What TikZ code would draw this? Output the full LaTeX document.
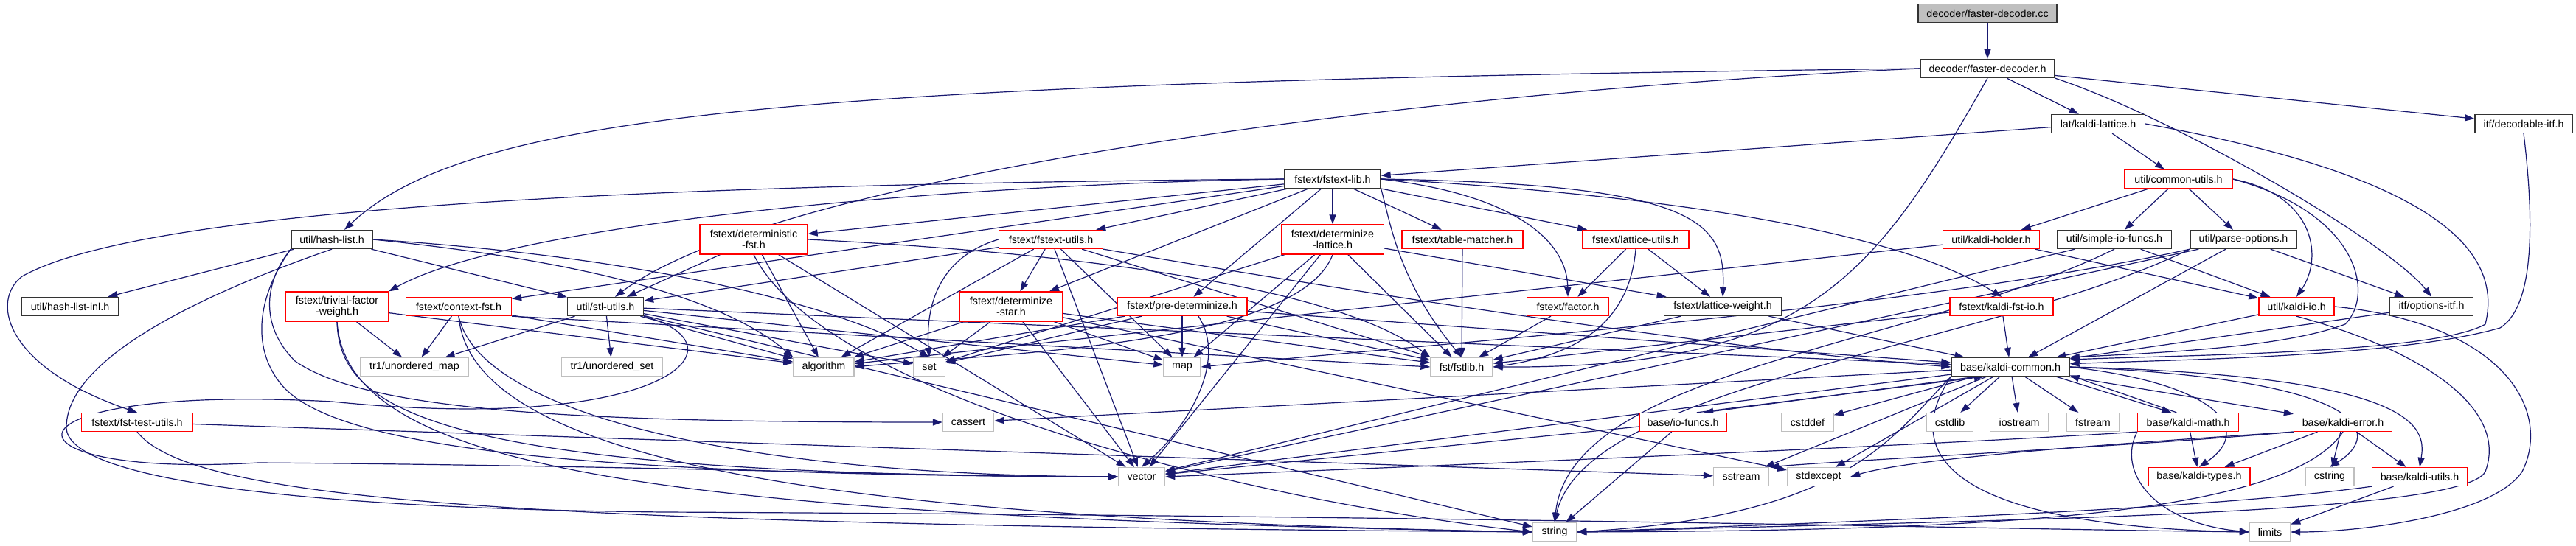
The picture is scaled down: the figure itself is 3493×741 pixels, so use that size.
\documentclass[tikz,border=0pt]{standalone}
\usepackage{fontspec}
\setmainfont{Liberation Sans}
\usetikzlibrary{arrows.meta}
\pgfdeclarelayer{edges}
\pgfsetlayers{edges,main}
\definecolor{edgeblue}{HTML}{191970}
\definecolor{sysgray}{HTML}{BFBFBF}
\definecolor{boxred}{HTML}{FF0000}

\begin{document}
\begin{tikzpicture}[x=1pt, y=-1pt,
    box/.style={rectangle, line width=1.3pt, fill=white, inner xsep=1pt, inner ysep=0pt,
      minimum height=25pt, align=center, font=\fontsize{14.3}{15}\selectfont},
    hdr/.style={box, draw=black!80, minimum width=#1},
    redhdr/.style={box, draw=boxred, minimum width=#1},
    syshdr/.style={box, draw=sysgray, minimum width=#1},
    roothdr/.style={box, draw=black!80, fill=sysgray, minimum width=#1},
    twoline/.style={minimum height=40pt},
    incl/.style={draw=edgeblue, line width=1.2pt, -{Triangle[length=13pt,width=9pt]}}]
  \useasboundingbox (0,0) rectangle (3493,741);

  % Source file and the headers it pulls in first
  \node[roothdr=188] (cc) at (2695,18) {decoder/faster-decoder.cc};
  \node[hdr=182] (fdh) at (2695,93) {decoder/faster-decoder.h};
  \node[hdr=127] (kaldilat) at (2845,168) {lat/kaldi-lattice.h};
  \node[hdr=132] (decitf) at (3422,168) {itf/decodable-itf.h};
  \node[hdr=130] (fstextlib) at (1807,243) {fstext/fstext-lib.h};
  \node[redhdr=146] (common) at (2954,243) {util/common-utils.h};

  % Fourth row
  \node[hdr=110] (hashlist) at (450,325) {util/hash-list.h};
  \node[redhdr=146, twoline] (detfst) at (1022,325) {fstext/deterministic\\-fst.h};
  \node[redhdr=141] (fstextutils) at (1425,325) {fstext/fstext-utils.h};
  \node[redhdr=139, twoline] (detlat) at (1807,325) {fstext/determinize\\-lattice.h};
  \node[redhdr=164] (tablematcher) at (1983,325) {fstext/table-matcher.h};
  \node[redhdr=144] (latutils) at (2218,325) {fstext/lattice-utils.h};
  \node[redhdr=131] (holder) at (2700,325) {util/kaldi-holder.h};
  \node[hdr=155] (simpleio) at (2867,325) {util/simple-io-funcs.h};
  \node[hdr=144] (parseopt) at (3042,325) {util/parse-options.h};

  % Fifth row
  \node[hdr=131] (hashlistinl) at (95,416) {util/hash-list-inl.h};
  \node[redhdr=139, twoline] (trivial) at (457,416) {fstext/trivial-factor\\-weight.h};
  \node[redhdr=143] (contextfst) at (622,416) {fstext/context-fst.h};
  \node[hdr=103] (stl) at (821,416) {util/stl-utils.h};
  \node[redhdr=139, twoline] (detstar) at (1371,416) {fstext/determinize\\-star.h};
  \node[redhdr=176] (predet) at (1603,416) {fstext/pre-determinize.h};
  \node[redhdr=111] (factor) at (2126,416) {fstext/factor.h};
  \node[hdr=159] (latweight) at (2336,416) {fstext/lattice-weight.h};
  \node[redhdr=140] (kaldifstio) at (2714,416) {fstext/kaldi-fst-io.h};
  \node[redhdr=102] (kaldiio) at (3114,416) {util/kaldi-io.h};
  \node[hdr=113] (optitf) at (3297,416) {itf/options-itf.h};

  % System headers, fstlib and kaldi-common
  \node[syshdr=146] (umap) at (562,498) {tr1/unordered\_map};
  \node[syshdr=137] (uset) at (830,498) {tr1/unordered\_set};
  \node[syshdr=82] (algorithm) at (1117,498) {algorithm};
  \node[syshdr=43] (set) at (1260,498) {set};
  \node[syshdr=50] (map) at (1603,498) {map};
  \node[syshdr=84] (fstlib) at (1982,498) {fst/fstlib.h};
  \node[hdr=160] (kcommon) at (2726,498) {base/kaldi-common.h};

  \node[redhdr=151] (fsttest) at (186,573) {fstext/fst-test-utils.h};
  \node[syshdr=69] (cassert) at (1313,573) {cassert};
  \node[redhdr=118] (iofuncs) at (2282,573) {base/io-funcs.h};
  \node[syshdr=70] (cstddef) at (2451,573) {cstddef};
  \node[syshdr=63] (cstdlib) at (2644,573) {cstdlib};
  \node[syshdr=79] (iostream) at (2738,573) {iostream};
  \node[syshdr=72] (fstream) at (2838,573) {fstream};
  \node[redhdr=137] (kmath) at (2967,573) {base/kaldi-math.h};
  \node[redhdr=133] (kerror) at (3177,573) {base/kaldi-error.h};

  \node[syshdr=63] (vector) at (1548,647) {vector};
  \node[syshdr=75] (sstream) at (2361,647) {sstream};
  \node[syshdr=85] (stdexcept) at (2466,647) {stdexcept};
  \node[redhdr=138] (ktypes) at (2982,647) {base/kaldi-types.h};
  \node[syshdr=66] (cstring) at (3159,647) {cstring};
  \node[redhdr=129] (kutils) at (3281,647) {base/kaldi-utils.h};

  \node[syshdr=59] (string) at (2108,722) {string};
  \node[syshdr=55] (limits) at (3078,722) {limits};

  \begin{pgfonlayer}{edges}
  \fill[white] (0,0) rectangle (3493,741);
  % decoder
  \draw[incl] (cc) -- (fdh);
  \draw[incl] (fdh) -- (kaldilat);
  \draw[incl] (fdh) -- (decitf);
  \draw[incl] (fdh.south east) .. controls (2950,160) and (3240,330) .. (optitf.north);
  \draw[incl] (fdh.west) .. controls (1900,125) and (1050,240) .. ([xshift=13pt]stl.north);
  \draw[incl] (fdh.west) .. controls (1100,112) and (640,150) .. ([xshift=17pt]hashlist.north);
  \draw[incl] (fdh.south) .. controls (2540,380) and (2450,500) .. (fstlib.east);
  % lattice and decodable interface
  \draw[incl] (kaldilat) -- (fstextlib);
  \draw[incl] (kaldilat) -- (common);
  \draw[incl] (kaldilat.east) .. controls (3250,230) and (3400,320) .. (3370,440) .. controls (3300,480) and (2950,482) .. (kcommon.7);
  \draw[incl] (decitf.south) .. controls (3440,330) and (3430,420) .. (3390,445) .. controls (3250,485) and (2950,488) .. (kcommon.3);
  % fstext-lib
  \draw[incl] (fstextlib) -- (detlat);
  \draw[incl] (fstextlib) -- (tablematcher);
  \draw[incl] (fstextlib) -- (latutils);
  \draw[incl] (fstextlib) -- (fstextutils);
  \draw[incl] (fstextlib) -- (detfst);
  \draw[incl] (fstextlib) -- (predet);
  \draw[incl] (fstextlib) -- (detstar);
  \draw[incl] (fstextlib) -- (contextfst);
  \draw[incl] (fstextlib.south east) .. controls (1885,300) and (1895,380) .. (fstlib.north);
  \draw[incl] (fstextlib.east) .. controls (2060,265) and (2125,330) .. (factor.north);
  \draw[incl] (fstextlib.east) .. controls (2300,250) and (2340,300) .. (latweight.north);
  \draw[incl] (fstextlib.east) .. controls (2350,270) and (2600,330) .. (kaldifstio.north);
  \draw[incl] (fstextlib.west) .. controls (1300,250) and (700,300) .. (trivial.north east);
  \draw[incl] (fstextlib.west) .. controls (900,250) and (200,280) .. (30,375) .. controls (-15,410) and (10,500) .. (fsttest.north);
  % common-utils
  \draw[incl] (common) -- (holder);
  \draw[incl] (common) -- (simpleio);
  \draw[incl] (common) -- (parseopt);
  \draw[incl] (common.east) .. controls (3140,265) and (3150,350) .. (kaldiio.north);
  \draw[incl] (common.east) .. controls (3200,290) and (3220,400) .. (3180,440) .. controls (3100,470) and (2950,478) .. (kcommon.north east);
  % hash-list
  \draw[incl] (hashlist) -- (hashlistinl);
  \draw[incl] (hashlist) -- (stl);
  \draw[incl] (hashlist.east) .. controls (850,360) and (1000,420) .. (algorithm.north west);
  \draw[incl] (hashlist.east) .. controls (900,350) and (1150,420) .. (set.north);
  \draw[incl] (hashlist.south west) .. controls (350,400) and (340,470) .. (380,520) .. controls (450,610) and (800,645) .. (vector.west);
  \draw[incl] (hashlist.south west) .. controls (360,380) and (350,440) .. (400,490) .. controls (500,560) and (800,573) .. (cassert.west);
  \draw[incl] (hashlist.south) .. controls (300,390) and (90,480) .. (90,580) .. controls (90,650) and (400,690) .. (900,695) .. controls (2000,700) and (2700,718) .. (limits.west);
  % deterministic-fst
  \draw[incl] (detfst) -- (stl);
  \draw[incl] (detfst) -- (algorithm);
  \draw[incl] (detfst) -- (vector);
  \draw[incl] (detfst.east) .. controls (1400,340) and (1800,380) .. (fstlib.north west);
  \draw[incl] (detfst.south) .. controls (1120,540) and (1700,680) .. (string.west);
  % fstext-utils
  \draw[incl] (fstextutils) -- (detstar);
  \draw[incl] (fstextutils) -- (algorithm);
  \draw[incl] (fstextutils.west) .. controls (1270,350) and (1255,420) .. (set.north);
  \draw[incl] (fstextutils) -- (map);
  \draw[incl] (fstextutils) -- (vector);
  \draw[incl] (fstextutils) -- (fstlib);
  \draw[incl] (fstextutils) -- (stl);
  \draw[incl] (fstextutils.south east) .. controls (1800,390) and (2300,470) .. (kcommon.west);
  % determinize-lattice
  \draw[incl] (detlat) -- (fstlib);
  \draw[incl] (detlat.south) .. controls (1760,470) and (1350,480) .. (algorithm.east);
  \draw[incl] (detlat) -- (set);
  \draw[incl] (detlat) -- (map);
  \draw[incl] (detlat) -- (vector);
  \draw[incl] (detlat) -- (latweight);
  % table-matcher, lattice-utils
  \draw[incl] (tablematcher) -- (fstlib);
  \draw[incl] (latutils) -- (factor);
  \draw[incl] (latutils) -- (latweight);
  \draw[incl] (latutils.south) .. controls (2210,430) and (2150,480) .. (fstlib.east);
  % util headers
  \draw[incl] (holder) -- (kaldiio);
  \draw[incl] (holder) -- (algorithm);
  \draw[incl] (simpleio) -- (kaldiio);
  \draw[incl] (simpleio.south) .. controls (2600,470) and (2130,500) .. (string.north);
  \draw[incl] (simpleio) -- (vector);
  \draw[incl] (parseopt) -- (optitf);
  \draw[incl] (parseopt) -- (kcommon);
  \draw[incl] (parseopt.south west) .. controls (2600,420) and (1900,470) .. (map.east);
  \draw[incl] (parseopt.south west) .. controls (2700,470) and (2150,520) .. (string.north);
  \draw[incl] (parseopt) -- (vector);
  \draw[incl] (kaldiio) -- (kcommon);
  \draw[incl] (kaldiio.south) .. controls (3300,480) and (3400,560) .. (3370,640) .. controls (3340,700) and (2700,705) .. (string.east);
  \draw[incl] (kaldiio.east) .. controls (3400,440) and (3460,560) .. (3420,640) .. controls (3380,700) and (3200,722) .. (limits.east);
  \draw[incl] (optitf) -- (kcommon);
  % fifth row fstext and util
  \draw[incl] (trivial) -- (umap);
  \draw[incl] (trivial) -- (algorithm);
  \draw[incl] (trivial.south) .. controls (460,560) and (600,645) .. (vector.west);
  \draw[incl] (trivial.south) .. controls (470,640) and (900,700) .. (string.west);
  \draw[incl] (contextfst) -- (umap);
  \draw[incl] (contextfst) -- (algorithm);
  \draw[incl] (contextfst.south east) -- (fstlib.west);
  \draw[incl] (contextfst.south) .. controls (650,560) and (1000,645) .. (vector.west);
  \draw[incl] (contextfst.south) .. controls (640,640) and (1200,705) .. (string.west);
  \draw[incl] (stl) -- (umap);
  \draw[incl] (stl) -- (uset);
  \draw[incl] (stl) -- (algorithm);
  \draw[incl] (stl) -- (set);
  \draw[incl] (stl) -- (map);
  \draw[incl] (stl) -- (kcommon);
  \draw[incl] (stl) -- (string);
  \draw[incl] (stl.south east) .. controls (1020,470) and (900,590) .. (450,545) .. controls (-20,520) and (-20,650) .. (350,628) .. controls (900,632) and (1300,648) .. (vector.west);
  \draw[incl] (detstar) -- (algorithm);
  \draw[incl] (detstar) -- (set);
  \draw[incl] (detstar) -- (map);
  \draw[incl] (detstar) -- (vector);
  \draw[incl] (detstar) -- (fstlib);
  \draw[incl] (detstar) -- (stdexcept);
  \draw[incl] (predet) -- (algorithm);
  \draw[incl] (predet) -- (set);
  \draw[incl] (predet) -- (map);
  \draw[incl] ([xshift=22pt]predet.south) .. controls (1665,490) and (1610,580) .. (vector.north);
  \draw[incl] (predet) -- (fstlib);
  \draw[incl] (predet) -- (kcommon);
  \draw[incl] (factor) -- (fstlib);
  \draw[incl] (latweight) -- (fstlib);
  \draw[incl] (latweight) -- (kcommon);
  \draw[incl] (kaldifstio) -- (kcommon);
  \draw[incl] (kaldifstio) -- (fstlib);
  \draw[incl] (fsttest) -- (sstream);
  \draw[incl] (fsttest.south) .. controls (260,680) and (700,712) .. (string.west);
  % kaldi-common
  \draw[incl] (kcommon) -- (cassert);
  \draw[incl] (kcommon.196) -- (iofuncs.25);
  \draw[incl] (kcommon) -- (cstddef);
  \draw[incl] (kcommon) -- (cstdlib);
  \draw[incl] (kcommon) -- (iostream);
  \draw[incl] (kcommon) -- (fstream);
  \draw[incl] (kcommon.-12) -- (kmath.150);
  \draw[incl] (kcommon) -- (kerror);
  \draw[incl] (kcommon) -- (vector);
  \draw[incl] (kcommon) -- (sstream);
  \draw[incl] (kcommon) -- (stdexcept);
  \draw[incl] (kcommon.east) .. controls (3000,520) and (3060,580) .. (ktypes.north);
  \draw[incl] (kcommon.east) .. controls (3220,515) and (3230,590) .. (cstring.north);
  \draw[incl] (kcommon.east) .. controls (3280,510) and (3290,580) .. (kutils.north);
  \draw[incl] (kcommon.south west) .. controls (2560,600) and (2500,700) .. (string.east);
  \draw[incl] (kcommon.south west) .. controls (2560,640) and (2700,715) .. (limits.west);
  % base headers
  \draw[incl] (iofuncs.35) -- (kcommon.200);
  \draw[incl] (iofuncs) -- (string);
  \draw[incl] (iofuncs) -- (vector);
  \draw[incl] (kmath.140) -- (kcommon.-8);
  \draw[incl] (kmath) -- (ktypes);
  \draw[incl] (kmath.south west) .. controls (2870,640) and (2920,710) .. (limits.west);
  \draw[incl] (kmath.south west) .. controls (2600,605) and (2000,630) .. (vector.east);
  \draw[incl] (kerror) -- (ktypes);
  \draw[incl] (kerror) -- (cstring);
  \draw[incl] (kerror) -- (kutils);
  \draw[incl] (kerror.south west) .. controls (2900,600) and (2600,620) .. (stdexcept.east);
  \draw[incl] (kerror.south west) .. controls (2900,605) and (2500,625) .. (sstream.north east);
  \draw[incl] (kerror.south) .. controls (3100,700) and (2700,720) .. (string.east);
  \draw[incl] (kutils) -- (limits);
  \draw[incl] (kutils.south west) .. controls (3000,690) and (2600,705) .. (string.east);
  \end{pgfonlayer}
\end{tikzpicture}
\end{document}
